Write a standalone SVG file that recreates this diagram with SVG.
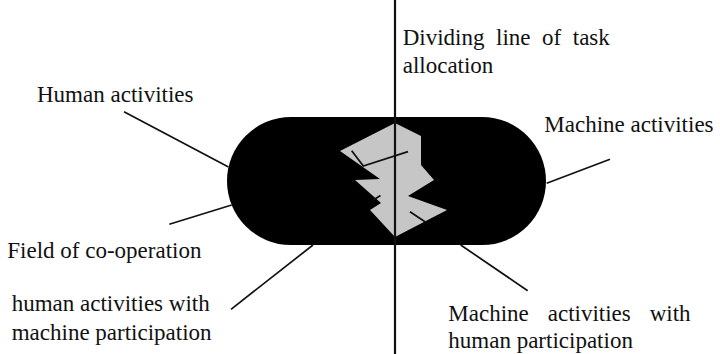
<svg xmlns="http://www.w3.org/2000/svg" width="720" height="354" viewBox="0 0 720 354">
<style>
text{font-family:"Liberation Serif","Times New Roman",serif;font-size:23px;fill:#111}
.ln{stroke:#111;stroke-width:1.7;fill:none}
.in{stroke:#111;stroke-width:1.8;fill:none}
</style>
<rect width="720" height="354" fill="#fff"/>
<g id="field">
<rect x="227" y="117" width="319" height="128" rx="64" ry="64" fill="#000"/>
<polygon points="395,123 421,136 421,165 434,180 408,196 447,210 395,237 370,210 381,203 355,180 380,179 340,151" fill="#c6c6c6"/>
<path class="in" d="M351.7,150.7 L363.3,166 L408,151.7 M373.3,200 L380.5,195.5 M410,211.7 L425,221.7"/>
</g>
<g id="connectors">
<line class="ln" x1="395" y1="0" x2="395" y2="354" style="stroke-width:2.2"/>
<line class="ln" x1="124" y1="111.7" x2="228.5" y2="167"/>
<line class="ln" x1="169.3" y1="224.3" x2="231.7" y2="205"/>
<line class="ln" x1="231" y1="309.3" x2="313" y2="245"/>
<line class="ln" x1="546.7" y1="183.3" x2="610" y2="159.3"/>
<line class="ln" x1="460.7" y1="245" x2="527.7" y2="290.7"/>
</g>
<g id="label-human"><text x="37" y="101.7">Human activities</text></g>
<g id="label-field"><text x="7.3" y="258.3">Field of co-operation</text></g>
<g id="label-human-machine"><text x="11.7" y="310.7">human activities with</text><text x="11.7" y="340">machine participation</text></g>
<g id="label-dividing"><text x="402.7" y="45" word-spacing="5.8">Dividing line of task</text><text x="402.7" y="72.7">allocation</text></g>
<g id="label-machine"><text x="544.3" y="131.7">Machine activities</text></g>
<g id="label-machine-human"><text x="448.3" y="320.7" word-spacing="13.2">Machine activities with</text><text x="448.3" y="348.3">human participation</text></g>
</svg>
